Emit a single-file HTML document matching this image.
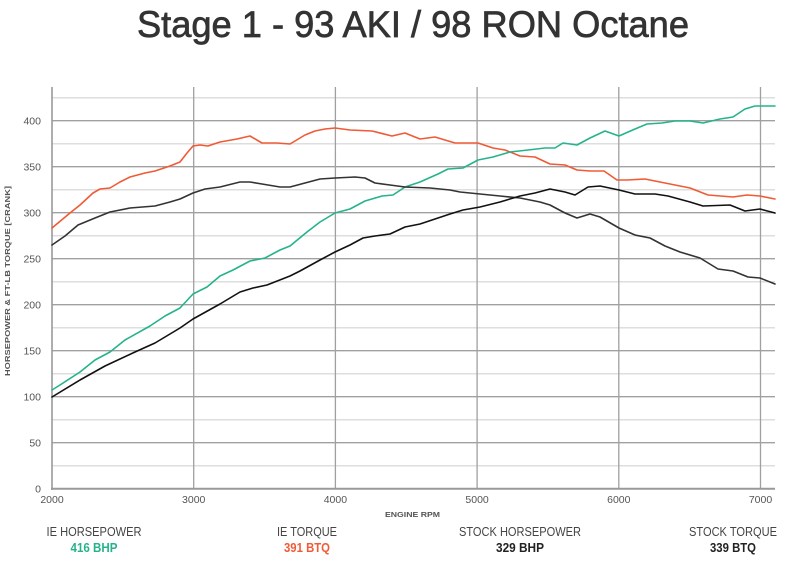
<!DOCTYPE html>
<html>
<head>
<meta charset="utf-8">
<style>
html,body{margin:0;padding:0;background:#fff;}
svg{display:block;}
text{font-family:"Liberation Sans","DejaVu Sans",sans-serif;}
</style>
</head>
<body>
<svg width="800" height="570" viewBox="0 0 800 570" xmlns="http://www.w3.org/2000/svg">
<rect width="800" height="570" fill="#fff"/>
<!-- Title -->
<text x="137" y="37" font-size="37" fill="#333" stroke="#333" stroke-width="0.7" textLength="552" lengthAdjust="spacingAndGlyphs">Stage 1 - 93 AKI / 98 RON Octane</text>

<!-- minor gridlines -->
<g stroke="#dedede" stroke-width="1.5">
<line x1="52" x2="775" y1="465.7" y2="465.7"/>
<line x1="52" x2="775" y1="419.7" y2="419.7"/>
<line x1="52" x2="775" y1="373.7" y2="373.7"/>
<line x1="52" x2="775" y1="327.7" y2="327.7"/>
<line x1="52" x2="775" y1="281.7" y2="281.7"/>
<line x1="52" x2="775" y1="235.7" y2="235.7"/>
<line x1="52" x2="775" y1="189.7" y2="189.7"/>
<line x1="52" x2="775" y1="143.7" y2="143.7"/>
<line x1="52" x2="775" y1="97.7" y2="97.7"/>
</g>
<!-- major gridlines -->
<g stroke="#a0a0a0" stroke-width="1.3">
<line x1="52" x2="775" y1="442.7" y2="442.7"/>
<line x1="52" x2="775" y1="396.7" y2="396.7"/>
<line x1="52" x2="775" y1="350.7" y2="350.7"/>
<line x1="52" x2="775" y1="304.7" y2="304.7"/>
<line x1="52" x2="775" y1="258.7" y2="258.7"/>
<line x1="52" x2="775" y1="212.7" y2="212.7"/>
<line x1="52" x2="775" y1="166.7" y2="166.7"/>
<line x1="52" x2="775" y1="120.7" y2="120.7"/>
</g>
<!-- vertical gridlines -->
<g stroke="#a0a0a0" stroke-width="1.3">
<line x1="193.7" x2="193.7" y1="87" y2="489"/>
<line x1="335.4" x2="335.4" y1="87" y2="489"/>
<line x1="477.1" x2="477.1" y1="87" y2="489"/>
<line x1="618.8" x2="618.8" y1="87" y2="489"/>
<line x1="760.5" x2="760.5" y1="87" y2="489"/>
</g>
<!-- axes -->
<line x1="52" x2="52" y1="87" y2="490" stroke="#999" stroke-width="1.6"/>
<line x1="51" x2="775" y1="488.8" y2="488.8" stroke="#999" stroke-width="2"/>

<!-- y tick labels -->
<g font-size="10.5" fill="#555" text-anchor="end">
<text x="41" y="492.5">0</text>
<text x="41" y="446.5">50</text>
<text x="41" y="400.5">100</text>
<text x="41" y="354.5">150</text>
<text x="41" y="308.5">200</text>
<text x="41" y="262.5">250</text>
<text x="41" y="216.5">300</text>
<text x="41" y="170.5">350</text>
<text x="41" y="124.5">400</text>
</g>
<!-- x tick labels -->
<g font-size="10.5" fill="#555" text-anchor="middle">
<text x="52" y="503">2000</text>
<text x="193.7" y="503">3000</text>
<text x="335.4" y="503">4000</text>
<text x="477.1" y="503">5000</text>
<text x="618.8" y="503">6000</text>
<text x="760.5" y="503">7000</text>
</g>
<text x="385" y="517" font-size="7.5" font-weight="bold" fill="#555" textLength="55" lengthAdjust="spacingAndGlyphs">ENGINE RPM</text>
<text transform="translate(10,281) rotate(-90)" text-anchor="middle" font-size="7.5" font-weight="bold" fill="#555" textLength="190" lengthAdjust="spacingAndGlyphs">HORSEPOWER &amp; FT-LB TORQUE [CRANK]</text>

<!-- series -->
<g fill="none" stroke-width="1.6" stroke-linejoin="round" stroke-linecap="round">
<polyline stroke="#f05a35" points="52,228 70,213 80,205 93,193 100,189 110,188 120,182 130,177 145,173 155,171 170,166 180,162 187,153 193,146 200,145 208,146 220,142 237,139 250,136 262,143 277,143 290,144 305,135 315,131 325,129 335,128 350,130 372,131 392,136 405,133 420,139 435,137 455,143 478,143 493,148 505,150 520,156 535,157 550,164 565,165 577,170 590,171 604,171 617,180 627,180 645,179 665,183 690,188 708,195 733,197 747,195 760,196 775,199"/>
<polyline stroke="#25b38c" points="52,390 60,385 80,372 95,360 110,352 125,340 150,326 165,316 180,308 193,294 207,287 220,276 233,270 250,261 265,258 280,250 290,246 307,232 320,222 335,213 350,209 365,201 382,196 393,195 405,187 420,182 438,174 448,169 463,168 478,160 493,157 510,152 528,150 545,148 555,148 563,143 577,145 590,138 605,131 619,136 635,129 647,124 662,123 675,121 690,121 703,123 720,119 733,117 745,109 755,106 775,106"/>
<polyline stroke="#333" points="52,245 65,236 78,225 95,218 110,212 130,208 155,206 170,202 180,199 193,193 205,189 220,187 240,182 250,182 262,184 280,187 290,187 305,183 320,179 335,178 355,177 365,178 375,183 390,185 405,187 430,188 450,190 460,192 480,194 500,196 520,198 540,202 550,205 565,213 577,218 590,214 600,217 619,228 635,235 650,238 665,246 680,252 700,258 718,269 733,271 748,277 760,278 775,284"/>
<polyline stroke="#111" points="52,397 80,380 105,366 135,352 155,343 180,328 193,319 220,304 240,292 253,288 267,285 290,276 300,271 320,260 335,252 350,245 363,238 375,236 390,234 405,227 420,224 435,219 450,214 463,210 480,207 500,202 520,196 535,193 550,189 565,192 575,195 588,187 600,186 619,190 635,194 655,194 668,196 690,202 703,206 730,205 745,211 760,209 775,213"/>
</g>

<!-- legend -->
<g font-size="13" fill="#444" text-anchor="middle">
<text x="94" y="536" textLength="95" lengthAdjust="spacingAndGlyphs">IE HORSEPOWER</text>
<text x="307" y="536" textLength="60" lengthAdjust="spacingAndGlyphs">IE TORQUE</text>
<text x="520" y="536" textLength="122" lengthAdjust="spacingAndGlyphs">STOCK HORSEPOWER</text>
<text x="733" y="536" textLength="88" lengthAdjust="spacingAndGlyphs">STOCK TORQUE</text>
</g>
<g font-size="12.5" font-weight="bold" text-anchor="middle">
<text x="94" y="552" fill="#25b38c" textLength="47" lengthAdjust="spacingAndGlyphs">416 BHP</text>
<text x="307" y="552" fill="#f05a35" textLength="46" lengthAdjust="spacingAndGlyphs">391 BTQ</text>
<text x="520" y="552" fill="#222" textLength="48" lengthAdjust="spacingAndGlyphs">329 BHP</text>
<text x="733" y="552" fill="#222" textLength="46" lengthAdjust="spacingAndGlyphs">339 BTQ</text>
</g>
</svg>
</body>
</html>
